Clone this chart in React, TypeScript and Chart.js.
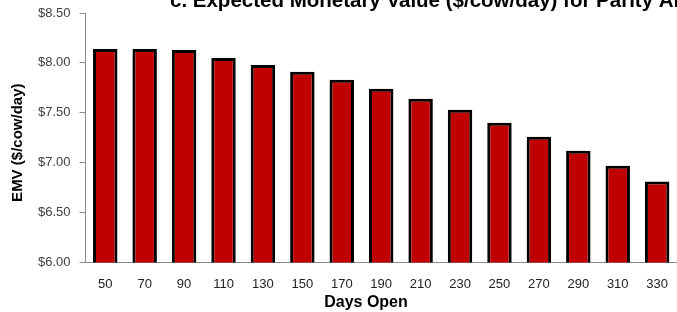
import React, { useEffect, useRef } from "react";
import { Chart, registerables } from "chart.js";

Chart.register(...registerables);

const categories = ["50", "70", "90", "110", "130", "150", "170", "190", "210", "230", "250", "270", "290", "310", "330"];
const emvValues = [8.14, 8.14, 8.13, 8.05, 7.98, 7.91, 7.83, 7.74, 7.64, 7.53, 7.40, 7.26, 7.12, 6.97, 6.81];
const yMin = 6.0;
const yMax = 8.5;
const yStep = 0.5;
const titleText = "c. Expected Monetary Value ($/cow/day) for Parity All";
const xTitle = "Days Open";
const yTitle = "EMV ($/cow/day)";

const textPlugin = {
  id: "customTexts",
  afterDraw(chart: any) {
    const ctx = chart.ctx;
    const area = chart.chartArea;
    ctx.save();
    ctx.fillStyle = "#000";
    ctx.font = "bold 20.5px 'Liberation Sans', Arial, sans-serif";
    ctx.textAlign = "left";
    ctx.textBaseline = "alphabetic";
    ctx.fillText(titleText, 170, 7);

    ctx.font = "bold 16px 'Liberation Sans', Arial, sans-serif";
    ctx.textAlign = "center";
    ctx.textBaseline = "middle";
    ctx.fillText(xTitle, 366, 303);

    ctx.translate(18, (area.top + area.bottom) / 2 + 5);
    ctx.rotate(-Math.PI / 2);
    ctx.font = "bold 15px 'Liberation Sans', Arial, sans-serif";
    ctx.fillText(yTitle, 0, 0);
    ctx.restore();
  },
};

export default function App() {
  const ref = useRef<HTMLCanvasElement | null>(null);
  useEffect(() => {
    if (!ref.current) return;
    const chart = new Chart(ref.current, {
      type: "bar",
      data: {
        labels: categories,
        datasets: [
          {
            data: emvValues,
            backgroundColor: "#C00000",
            borderColor: "#000000",
            borderWidth: 3,
            barPercentage: 0.62,
            categoryPercentage: 1,
          },
        ],
      },
      options: {
        animation: false,
        responsive: true,
        maintainAspectRatio: false,
        layout: { padding: { left: 29, top: 13, right: 0, bottom: 6 } },
        plugins: { legend: { display: false }, title: { display: false }, tooltip: { enabled: false } },
        scales: {
          x: {
            grid: { drawOnChartArea: false, drawTicks: false },
            border: { display: true, color: "#8c8c8c", width: 1 },
            ticks: { color: "#222", font: { size: 13, family: "'Liberation Sans', Arial, sans-serif" }, padding: 14, maxRotation: 0 },
          },
          y: {
            min: yMin,
            max: yMax,
            afterFit: (scale: any) => {
              scale.paddingTop = 0;
            },
            grid: { drawOnChartArea: false, drawTicks: true, tickLength: 6, color: "#8c8c8c" },
            border: { display: true, color: "#8c8c8c", width: 1 },
            ticks: {
              stepSize: yStep,
              color: "#404040",
              padding: 9,
              font: { size: 13, family: "'Liberation Sans', Arial, sans-serif" },
              callback: (v: any) => "$" + Number(v).toFixed(2),
            },
          },
        },
      },
      plugins: [textPlugin],
    });
    return () => chart.destroy();
  }, []);
  return (
    <div style={{ position: "fixed", left: 0, top: 0, width: 677, height: 312, overflow: "hidden", background: "#fff" }}>
      <div style={{ position: "absolute", left: 0, top: 0, width: 682, height: 312 }}>
        <canvas ref={ref} />
      </div>
    </div>
  );
}
